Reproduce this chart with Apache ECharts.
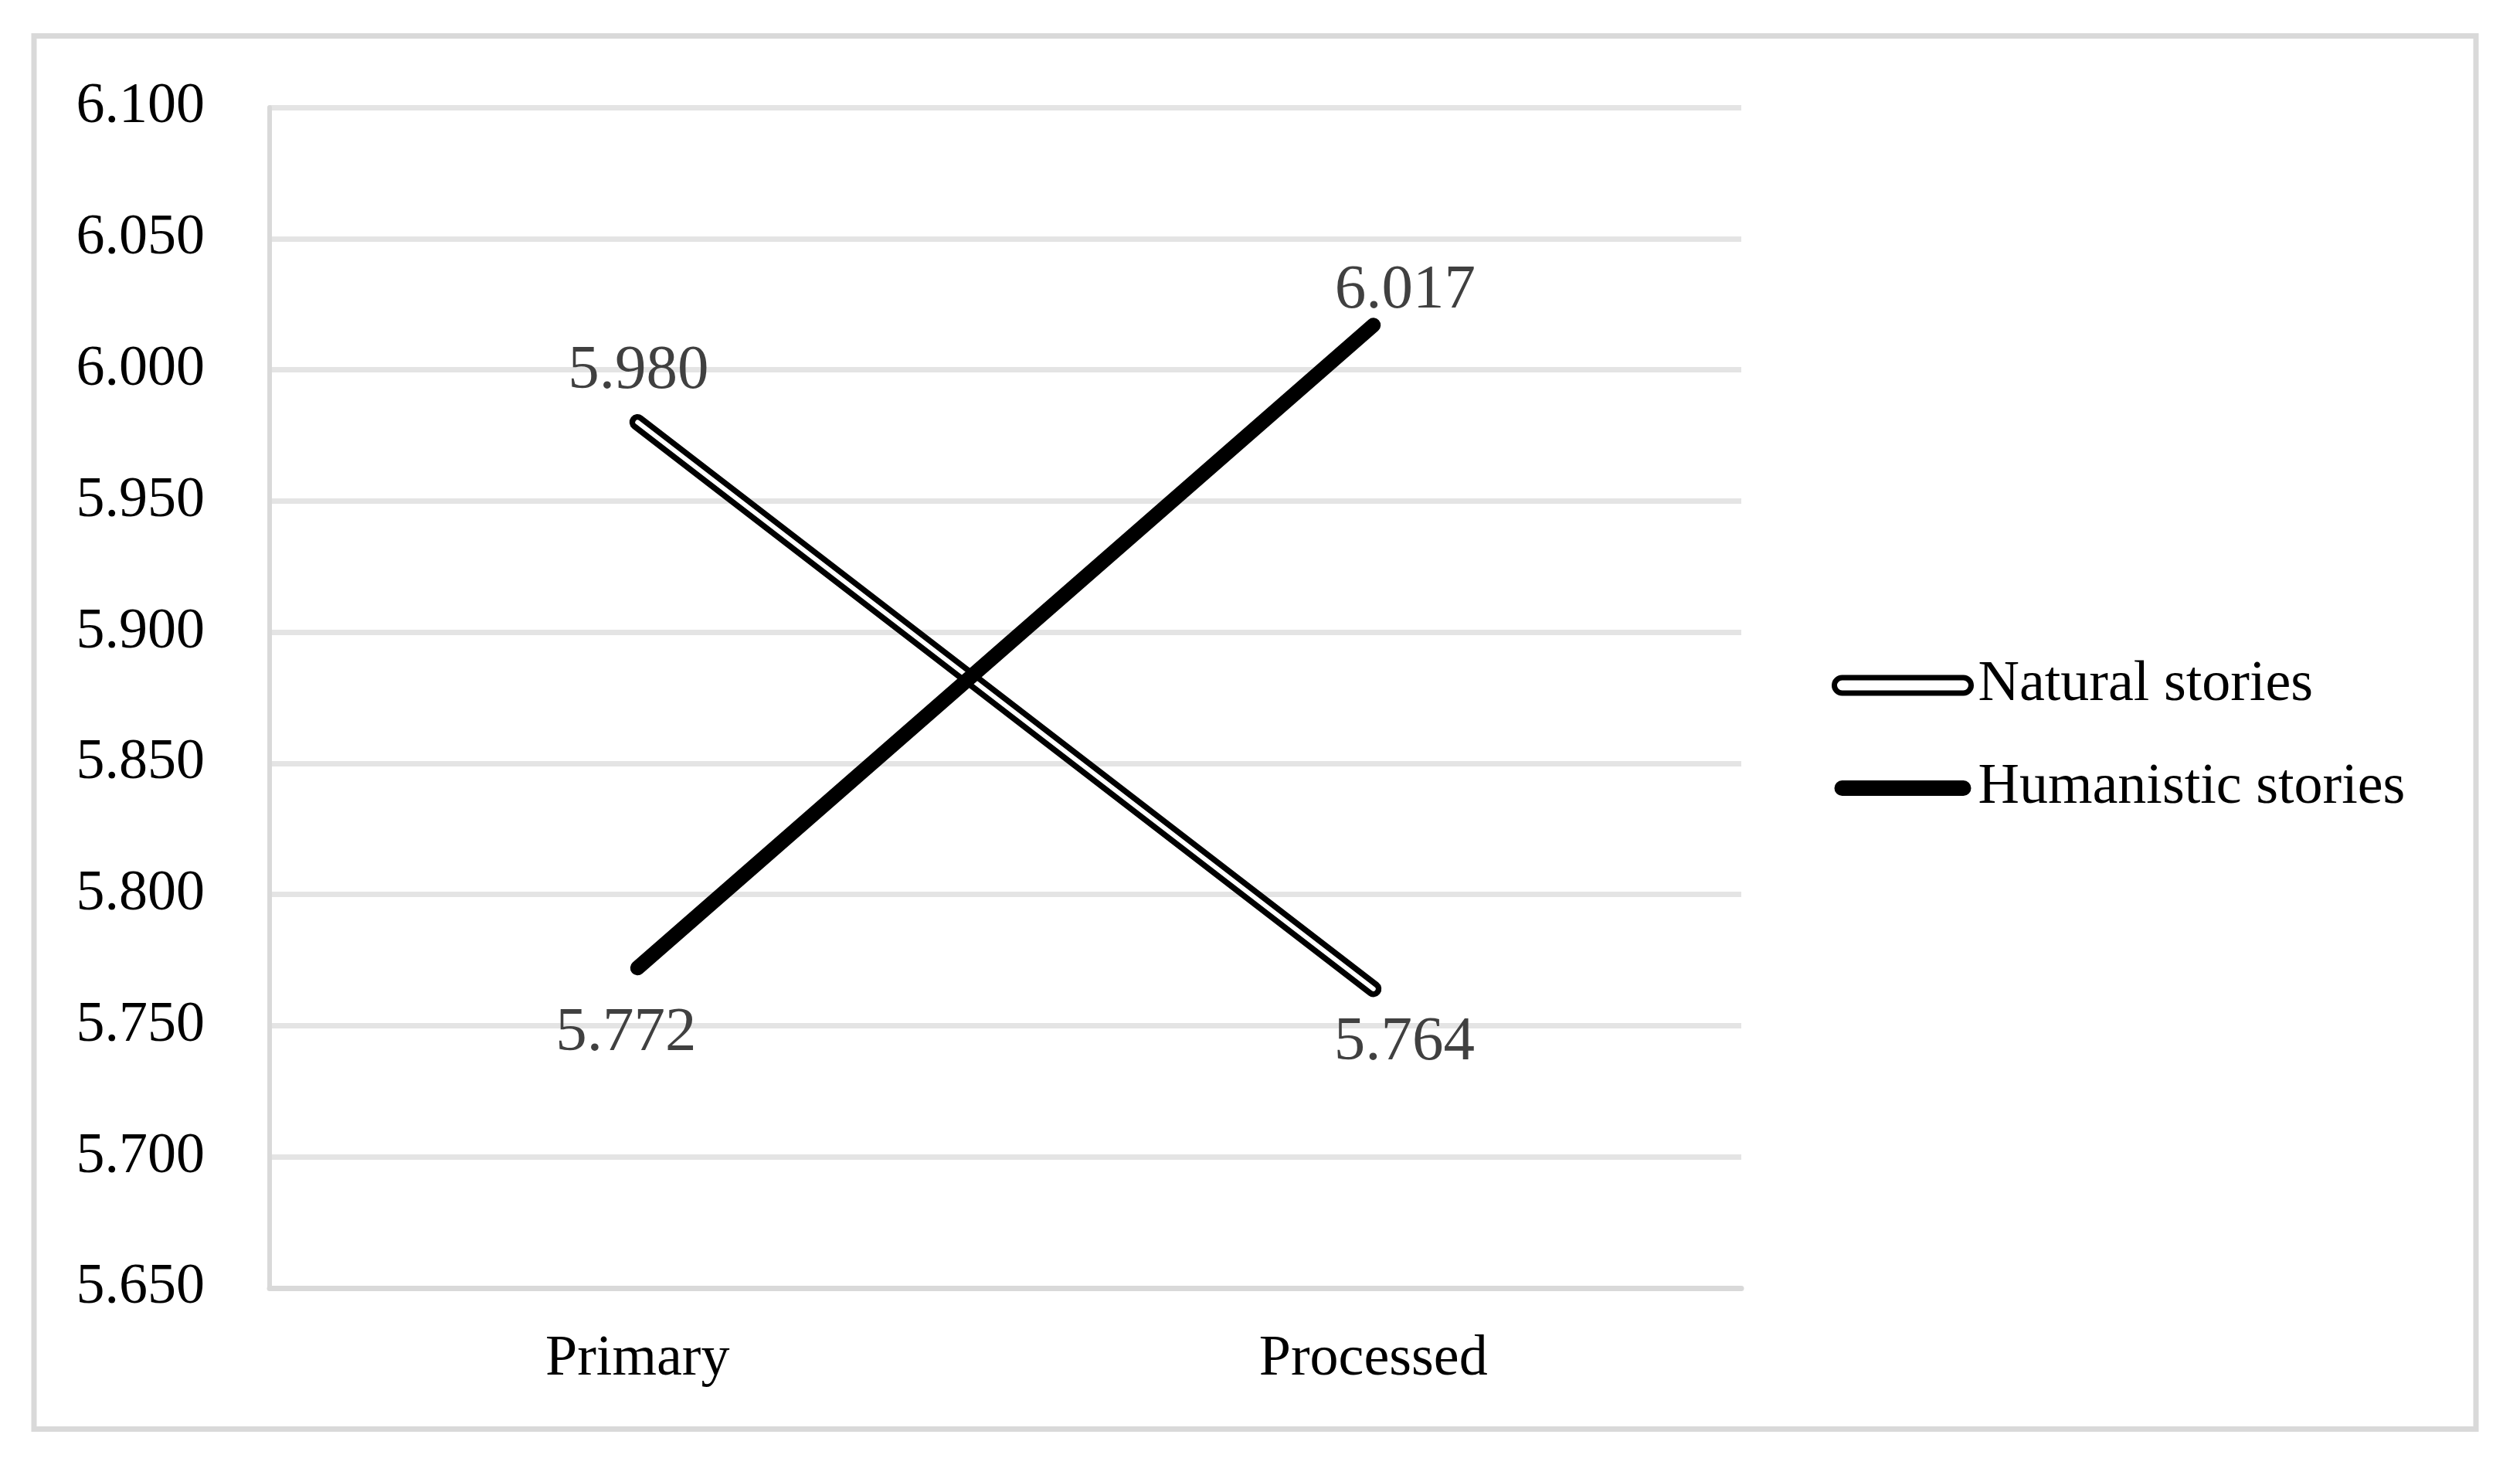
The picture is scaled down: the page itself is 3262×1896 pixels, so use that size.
<!DOCTYPE html>
<html>
<head>
<meta charset="utf-8">
<script src="https://cdn.jsdelivr.net/npm/echarts@6/dist/echarts.min.js"></script>
<style>
html,body{margin:0;padding:0;background:#fff;}
#chart{width:3262px;height:1896px;}
</style>
</head>
<body>
<div id="chart"></div>
<script>
// ---- data ----
const categories = ['Primary', 'Processed'];
const seriesNames = ['Natural stories', 'Humanistic stories'];
const naturalValues = [5.980, 5.764];
const humanisticValues = [5.772, 6.017];
const yMin = 5.65;
const yMax = 6.10;
const yInterval = 0.05;

// ---- label placement (styling only) ----
const naturalLabelOffsets = [[1, -66], [40, 70]];
const humanisticLabelOffsets = [[-15, 85], [41, -44]];

const FONT = "'Liberation Serif', 'Times New Roman', serif";

function labelled(values, offsets) {
  return values.map((v, i) => ({
    value: v,
    label: { show: true, position: 'inside', offset: offsets[i] }
  }));
}

const dataLabel = {
  show: true,
  fontFamily: FONT,
  fontSize: 81,
  color: '#404040',
  formatter: p => Number(p.value).toFixed(3)
};

const chart = echarts.init(document.getElementById('chart'), null, {renderer: 'canvas'});
const capPath = 'path://M10,0 L167,0 A10,10 0 0 1 167,20 L10,20 A10,10 0 0 1 10,0 Z';

chart.setOption({
  backgroundColor: '#fff',
  animation: false,
  graphic: [{
    type: 'rect',
    shape: { x: 44, y: 46.5, width: 3161, height: 1803 },
    style: { fill: 'none', stroke: '#d9d9d9', lineWidth: 7 },
    silent: true,
    z: -10
  }],
  grid: { left: 349, right: 1008, top: 139, bottom: 229, containLabel: false },
  xAxis: {
    type: 'category',
    data: categories,
    boundaryGap: true,
    axisLine: { show: true, lineStyle: { color: '#d9d9d9', width: 7 } },
    axisTick: { show: false },
    axisLabel: { fontFamily: FONT, fontSize: 74, color: '#000', margin: 56 },
    splitLine: { show: false }
  },
  yAxis: {
    type: 'value',
    min: yMin,
    max: yMax,
    interval: yInterval,
    axisLine: { show: true, lineStyle: { color: '#d9d9d9', width: 6 } },
    axisTick: { show: false },
    axisLabel: {
      fontFamily: FONT, fontSize: 74, color: '#000', margin: 84,
      padding: [8, 0, 0, 0],
      formatter: v => v.toFixed(3)
    },
    splitLine: { show: true, lineStyle: { color: '#e4e4e4', width: 7 } }
  },
  legend: {
    orient: 'vertical',
    left: 2366,
    top: 845,
    itemWidth: 177,
    itemHeight: 21,
    itemGap: 59,
    textStyle: { fontFamily: FONT, fontSize: 74, color: '#000', padding: [0, 0, 0, 4] },
    data: [
      { name: seriesNames[0], icon: capPath,
        itemStyle: { color: '#fff', borderColor: '#000', borderWidth: 7 } },
      { name: seriesNames[1], icon: capPath,
        itemStyle: { color: '#000', borderColor: '#000', borderWidth: 0 } }
    ]
  },
  series: [
    {
      name: seriesNames[0],
      type: 'line',
      data: naturalValues,
      symbol: 'none',
      lineStyle: { color: '#000', width: 21, cap: 'round', join: 'round' },
      itemStyle: { color: '#000' },
      silent: true,
      z: 2
    },
    {
      name: 'Natural stories (core)',
      type: 'line',
      data: labelled(naturalValues, naturalLabelOffsets),
      symbol: 'circle',
      symbolSize: 1,
      showSymbol: true,
      lineStyle: { color: '#fff', width: 6, cap: 'round', join: 'round' },
      itemStyle: { color: 'rgba(0,0,0,0)' },
      label: dataLabel,
      silent: true,
      z: 3
    },
    {
      name: seriesNames[1],
      type: 'line',
      data: labelled(humanisticValues, humanisticLabelOffsets),
      symbol: 'circle',
      symbolSize: 1,
      showSymbol: true,
      lineStyle: { color: '#000', width: 19, cap: 'round', join: 'round' },
      itemStyle: { color: 'rgba(0,0,0,0)' },
      label: dataLabel,
      silent: true,
      z: 4
    }
  ]
});
</script>
</body>
</html>
